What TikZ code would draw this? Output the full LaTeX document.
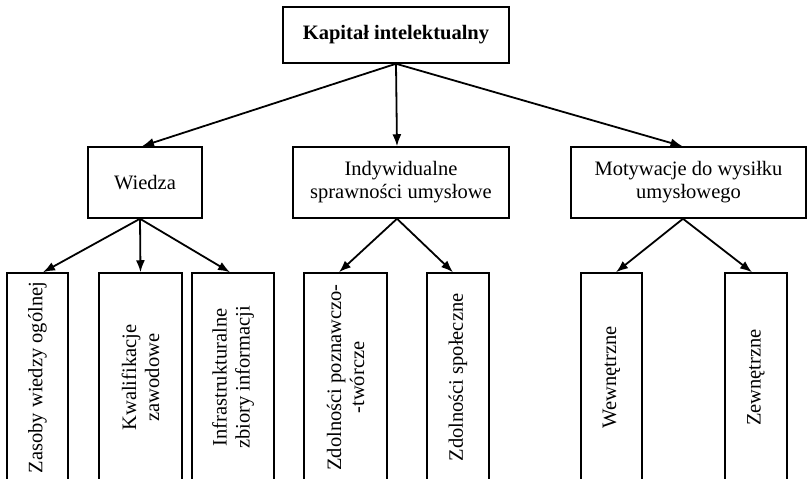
\documentclass[tikz,border=0pt]{standalone}
\usepackage{fontspec}
\setmainfont{Liberation Serif}
\usetikzlibrary{arrows.meta}
\begin{document}
\begin{tikzpicture}[x=1pt,y=-1pt,
 box/.style={draw,line width=1.5pt,inner sep=0pt,align=center,font=\fontsize{20.5}{23}\selectfont},
 vbox/.style={box,rotate=90,minimum width=209pt},
 arr/.style={line width=1.8pt,-{Latex[length=12pt,width=9pt]}}]
\useasboundingbox (0,0) rectangle (807,479);
\clip (0,0) rectangle (807,479);
\node[box,minimum width=226pt,minimum height=56pt,font=\fontsize{20.5}{23}\selectfont\bfseries] (top) at (396,35) {Kapitał intelektualny};
\node[box,minimum width=114pt,minimum height=71pt] (wiedza) at (145,182.5) {Wiedza};
\node[box,minimum width=216pt,minimum height=71pt] (indyw) at (401,182.5) {Indywidualne\\sprawności umysłowe};
\node[box,minimum width=235pt,minimum height=71pt] (motyw) at (688.5,182.5) {Motywacje do wysiłku\\umysłowego};
\node[vbox,minimum height=61pt] (zasoby) at (37.5,377.5) {Zasoby wiedzy ogólnej};
\node[vbox,minimum height=83pt] (kwal) at (140.5,377.5) {Kwalifikacje\\zawodowe};
\node[vbox,minimum height=82pt] (infra) at (233,377.5) {Infrastrukturalne\\zbiory informacji};
\node[vbox,minimum height=83pt] (zdolp) at (345.5,377.5) {Zdolności poznawczo-\\-twórcze};
\node[vbox,minimum height=62pt] (zdols) at (458,377.5) {Zdolności społeczne};
\node[vbox,minimum height=61pt] (wewn) at (611.5,377.5) {Wewnętrzne};
\node[vbox,minimum height=62pt] (zewn) at (756,377.5) {Zewnętrzne};
\draw[arr] (top.south) -- ([xshift=-3pt]wiedza.north);
\draw[arr] (top.south) -- ([xshift=-4pt]indyw.north);
\draw[arr] (top.south) -- ([xshift=-6pt]motyw.north);
\draw[arr] ([xshift=-5pt]wiedza.south) -- ([xshift=5.5pt]zasoby.east);
\draw[arr] ([xshift=-5pt]wiedza.south) -- (kwal.east);
\draw[arr] ([xshift=-5pt]wiedza.south) -- ([xshift=-3pt]infra.east);
\draw[arr] ([xshift=-4pt]indyw.south) -- ([xshift=-6.5pt]zdolp.east);
\draw[arr] ([xshift=-4pt]indyw.south) -- ([xshift=-5pt]zdols.east);
\draw[arr] ([xshift=-5.5pt]motyw.south) -- ([xshift=4.5pt]wewn.east);
\draw[arr] ([xshift=-5.5pt]motyw.south) -- ([xshift=-4pt]zewn.east);
\end{tikzpicture}
\end{document}
